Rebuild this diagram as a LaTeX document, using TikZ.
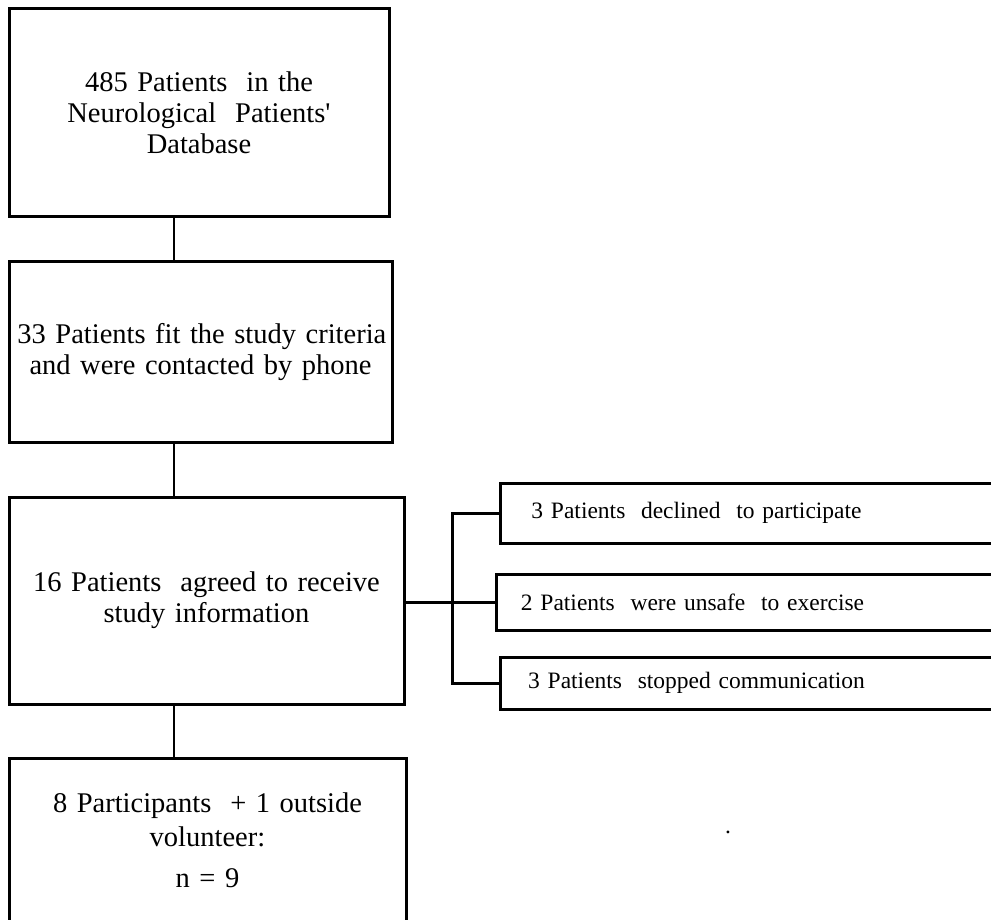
\documentclass[tikz,border=0pt]{standalone}
\usepackage{fontspec}
\setmainfont{Liberation Serif}

\tikzset{
  flowbox/.style={draw, line width=3pt, inner xsep=3pt, inner ysep=0pt, align=center,
    font=\fontsize{28.5}{31}\selectfont},
  sidebox/.style={draw, line width=3pt, anchor=west, inner xsep=0pt, inner ysep=0pt,
    text width=520pt, align=left, font=\fontsize{23.5}{28}\selectfont},
  link/.style={line width=1.4pt},
  bracket/.style={line width=3pt}
}

\begin{document}
\begin{tikzpicture}[x=1pt, y=-1pt]
        \def\side#1{\makebox[392pt]{#1}}
        \useasboundingbox (0,0) rectangle (991,920);
        \clip (0,0) rectangle (991,920);

        % main column
        \node[flowbox, text width=374pt, minimum height=208pt] (db) at (199,113)
              {485 Patients~ in the\\ Neurological~ Patients\textquotesingle\\ Database};
        \node[flowbox, text width=377pt, minimum height=180pt] (fit) at (200.5,352)
              {\makebox[366pt][s]{33 Patients fit the study criteria}\\ and were contacted by phone};
        \node[flowbox, text width=389pt, minimum height=207pt] (agreed) at (206.5,600.5)
              {16 Patients~ agreed to receive\\ study information};
        \node[flowbox, text width=391pt, minimum height=164pt] (part) at (207.5,840)
              {8 Participants~ + 1 outside\\[3pt] volunteer:\\[10pt] n = 9};

        % excluded
        \node[sidebox, minimum height=60pt] (declined) at (499,513)
              {\side{3 Patients~ declined~ to participate}};
        \node[sidebox, minimum height=56pt] (unsafe) at (495,602)
              {\side{2 Patients~ were unsafe~ to exercise}};
        \node[sidebox, minimum height=52pt] (stopped) at (499,683)
              {\side{3 Patients~ stopped communication}};

        \node[font=\fontsize{23.5}{28}\selectfont] (dot) at (728,832) {.};

        \coordinate (spine) at (174,0);
        \coordinate (fork) at (452,602);
        \draw[link] (db.south -| spine) -- (fit.north -| spine);
        \draw[link] (fit.south -| spine) -- (agreed.north -| spine);
        \draw[link] (agreed.south -| spine) -- (part.north -| spine);
        \draw[bracket] (agreed.east |- unsafe.west) -- (unsafe.west);
        \draw[bracket] (declined.west) -| (fork) |- (stopped.west);
\end{tikzpicture}
\end{document}
